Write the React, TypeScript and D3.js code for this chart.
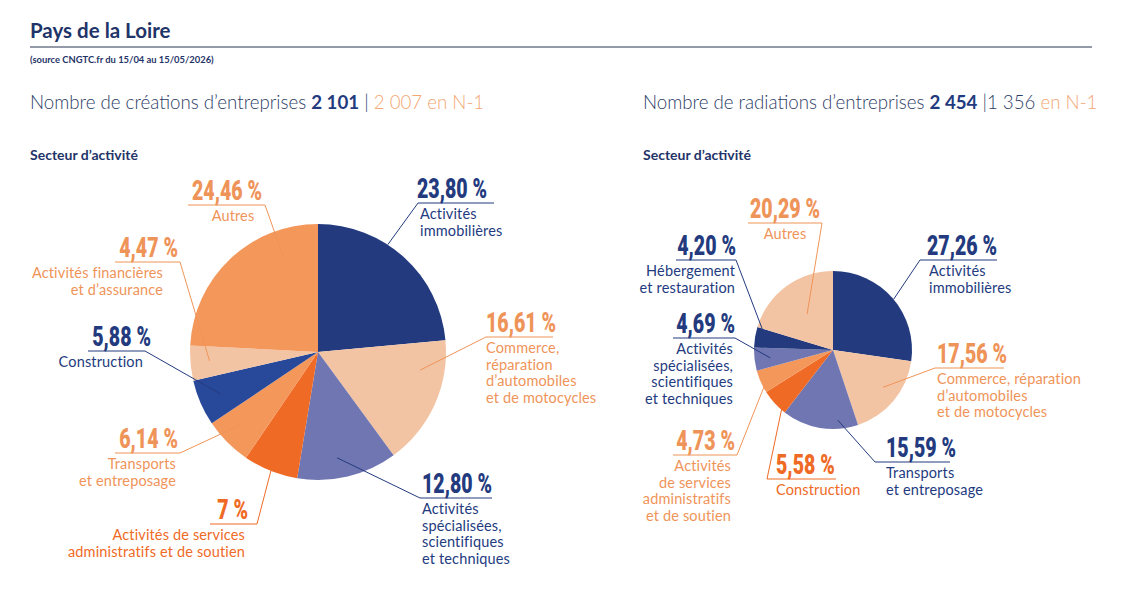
import React, { useEffect, useRef } from 'react';
import * as d3 from 'd3';

const W = 1132;
const H = 602;

const NAVY = '#233b7e';
const BLUE = '#28489a';
const LAVENDER = '#6f76b1';
const PEACH = '#f3c4a3';
const ORANGE = '#f4975b';
const RUST = '#ef6a25';
const TXT_ORANGE = '#ef9459';
const HEAD_INK = '#2d3d66';
const HEAD_ORANGE = '#f3a774';

const BODY_FONT = 'Lato, "Open Sans", sans-serif';
const PCT_FONT = 'Roboto, "DejaVu Sans", sans-serif';
const PCT_SX = 0.7;

// Créations : secteurs dans le sens horaire depuis midi
const creationShares = [23.8, 16.61, 12.8, 7, 6.14, 5.88, 4.47, 24.46];
const creationColors = [NAVY, PEACH, LAVENDER, RUST, ORANGE, BLUE, PEACH, ORANGE];
const creationInk = [NAVY, TXT_ORANGE, NAVY, RUST, TXT_ORANGE, NAVY, TXT_ORANGE, TXT_ORANGE];
const creationNames = [
  ['Activités', 'immobilières'],
  ['Commerce,', 'réparation', 'd’automobiles', 'et de motocycles'],
  ['Activités', 'spécialisées,', 'scientifiques', 'et techniques'],
  ['Activités de services', 'administratifs et de soutien'],
  ['Transports', 'et entreposage'],
  ['Construction'],
  ['Activités financières', 'et d’assurance'],
  ['Autres'],
];

// Radiations
const radiationShares = [27.26, 17.56, 15.59, 5.58, 4.73, 4.69, 4.2, 20.29];
const radiationColors = [NAVY, PEACH, LAVENDER, RUST, ORANGE, LAVENDER, NAVY, PEACH];
const radiationInk = [NAVY, TXT_ORANGE, NAVY, RUST, TXT_ORANGE, NAVY, NAVY, TXT_ORANGE];
const radiationNames = [
  ['Activités', 'immobilières'],
  ['Commerce, réparation', 'd’automobiles', 'et de motocycles'],
  ['Transports', 'et entreposage'],
  ['Construction'],
  ['Activités', 'de services', 'administratifs', 'et de soutien'],
  ['Activités', 'spécialisées,', 'scientifiques', 'et techniques'],
  ['Hébergement', 'et restauration'],
  ['Autres'],
];

type Anchor = 'start' | 'end' | 'middle';
interface LabelPos {
  x: number;      // percent text anchor
  uy: number;     // underline y
  nx: number;     // sector name anchor
  anchor: Anchor;
  ux: [number, number];
  from: 'l' | 'r'; // which end of the underline the leader leaves from
  at: [number, number]; // [fraction of slice angle, fraction of radius]
}

const creationLayout: LabelPos[] = [
  { x: 417, uy: 203, nx: 420, anchor: 'start', ux: [418, 494], from: 'l', at: [0.39, 1.0] },
  { x: 486, uy: 337, nx: 486, anchor: 'start', ux: [486, 553], from: 'l', at: [0.26, 0.81] },
  { x: 422, uy: 498, nx: 422, anchor: 'start', ux: [420, 492], from: 'l', at: [0.57, 0.84] },
  { x: 248, uy: 524, nx: 245, anchor: 'end', ux: [210, 257], from: 'r', at: [0.55, 0.83] },
  { x: 178, uy: 453, nx: 176, anchor: 'end', ux: [115, 180], from: 'r', at: [0.56, 0.82] },
  { x: 151, uy: 351, nx: 143, anchor: 'end', ux: [88, 145], from: 'r', at: [0.51, 0.83] },
  { x: 178, uy: 262, nx: 163, anchor: 'end', ux: [115, 180], from: 'r', at: [0.52, 0.85] },
  { x: 227, uy: 205, nx: 233, anchor: 'middle', ux: [188, 265], from: 'r', at: [0.77, 0.79] },
];

const radiationLayout: LabelPos[] = [
  { x: 927, uy: 260, nx: 929, anchor: 'start', ux: [920, 997], from: 'l', at: [0.51, 1.0] },
  { x: 937, uy: 368, nx: 937, anchor: 'start', ux: [935, 1004], from: 'l', at: [0.45, 0.79] },
  { x: 886, uy: 462, nx: 886, anchor: 'start', ux: [875, 950], from: 'l', at: [0.26, 0.89] },
  { x: 776, uy: 479, nx: 776, anchor: 'start', ux: [767, 836], from: 'l', at: [0.39, 0.87] },
  { x: 735, uy: 455, nx: 731, anchor: 'end', ux: [673, 737], from: 'r', at: [0.3, 0.97] },
  { x: 735, uy: 338, nx: 733, anchor: 'end', ux: [673, 735], from: 'r', at: [0.47, 0.8] },
  { x: 736, uy: 260, nx: 735, anchor: 'end', ux: [676, 736], from: 'r', at: [0.9, 0.92] },
  { x: 785, uy: 223, nx: 785, anchor: 'middle', ux: [748, 822], from: 'r', at: [0.51, 0.56] },
];

const fmtPct = (v: number) =>
  (Number.isInteger(v) ? String(v) : v.toFixed(2).replace('.', ',')) + ' %';

interface PieSpec {
  cx: number; cy: number; r: number;
  shares: number[]; colors: string[]; ink: string[];
  names: string[][]; layout: LabelPos[];
}

function drawPie(svg: d3.Selection<SVGSVGElement, unknown, null, undefined>, s: PieSpec) {
  const arcs = d3.pie<number>().sort(null).value(d => d)(s.shares);
  const arc = d3.arc<d3.PieArcDatum<number>>().innerRadius(0).outerRadius(s.r);

  svg.append('g')
    .attr('transform', `translate(${s.cx},${s.cy})`)
    .selectAll('path')
    .data(arcs)
    .join('path')
    .attr('d', arc)
    .attr('fill', (_, i) => s.colors[i]);

  const lg = svg.append('g');
  arcs.forEach((p, i) => {
    const L = s.layout[i];
    const col = s.ink[i];
    const a = p.startAngle + L.at[0] * (p.endAngle - p.startAngle);
    const tx = s.cx + Math.sin(a) * s.r * L.at[1];
    const ty = s.cy - Math.cos(a) * s.r * L.at[1];
    const sx = L.from === 'l' ? L.ux[0] : L.ux[1];

    lg.append('line')
      .attr('x1', L.ux[0]).attr('x2', L.ux[1])
      .attr('y1', L.uy).attr('y2', L.uy)
      .attr('stroke', col).attr('stroke-width', 1);
    lg.append('line')
      .attr('x1', sx).attr('y1', L.uy)
      .attr('x2', tx).attr('y2', ty)
      .attr('stroke', col).attr('stroke-width', 1);

    lg.append('text')
      .attr('transform', `translate(${L.x},${L.uy - 5}) scale(${PCT_SX},1)`)
      .attr('text-anchor', L.anchor)
      .attr('font-family', PCT_FONT)
      .attr('font-weight', 900)
      .attr('font-size', 28)
      .attr('fill', col)
      .text(fmtPct(s.shares[i]));

    s.names[i].forEach((ln, j) => {
      lg.append('text')
        .attr('x', L.nx)
        .attr('y', L.uy + 16 + j * 16.5)
        .attr('text-anchor', L.anchor)
        .attr('font-family', BODY_FONT)
        .attr('font-size', 14.5)
        .attr('letter-spacing', 0.15)
        .attr('fill', col)
        .text(ln);
    });
  });
}

const App: React.FC = () => {
  const svgRef = useRef<SVGSVGElement>(null);

  useEffect(() => {
    const svg = d3.select(svgRef.current!);
    svg.selectAll('*').remove();
    svg.attr('width', W).attr('height', H).style('background', '#fff');

    // Title block
    svg.append('text')
      .attr('x', 30).attr('y', 38)
      .attr('font-family', BODY_FONT).attr('font-weight', 700).attr('font-size', 20.5)
      .attr('fill', '#1f3468')
      .text('Pays de la Loire');
    svg.append('line')
      .attr('x1', 30).attr('x2', 1092).attr('y1', 47).attr('y2', 47)
      .attr('stroke', '#2a3552').attr('stroke-width', 1);
    svg.append('text')
      .attr('x', 30).attr('y', 63)
      .attr('font-family', BODY_FONT).attr('font-weight', 700).attr('font-size', 9.4)
      .attr('fill', '#1f3468')
      .text('(source CNGTC.fr du 15/04 au 15/05/2026)');

    const head = (x: number, lead: string, total: string, mid: string, tail: string) => {
      const t = svg.append('text')
        .attr('x', x).attr('y', 109)
        .attr('font-family', BODY_FONT).attr('font-size', 18.7).attr('font-weight', 300)
        .attr('fill', HEAD_INK);
      t.append('tspan').text(lead);
      t.append('tspan').attr('font-weight', 700).attr('fill', NAVY).text(total);
      t.append('tspan').text(mid);
      t.append('tspan').attr('fill', HEAD_ORANGE).text(tail);
    };
    head(30, 'Nombre de créations d’entreprises ', '2 101', ' | ', '2 007 en N-1');
    head(643, 'Nombre de radiations d’entreprises ', '2 454', ' |1 356 ', 'en N-1');

    [30, 643].forEach(x => {
      svg.append('text')
        .attr('x', x).attr('y', 160)
        .attr('font-family', BODY_FONT).attr('font-weight', 700).attr('font-size', 14)
        .attr('fill', '#1f3468')
        .text('Secteur d’activité');
    });

    drawPie(svg, {
      cx: 318, cy: 352, r: 128,
      shares: creationShares, colors: creationColors, ink: creationInk,
      names: creationNames, layout: creationLayout,
    });
    drawPie(svg, {
      cx: 833, cy: 350, r: 79,
      shares: radiationShares, colors: radiationColors, ink: radiationInk,
      names: radiationNames, layout: radiationLayout,
    });
  }, []);

  return (
    <div style={{ position: 'absolute', left: 0, top: 0, width: W, height: H, background: '#fff' }}>
      <svg ref={svgRef} style={{ display: 'block' }} />
    </div>
  );
};

export default App;
